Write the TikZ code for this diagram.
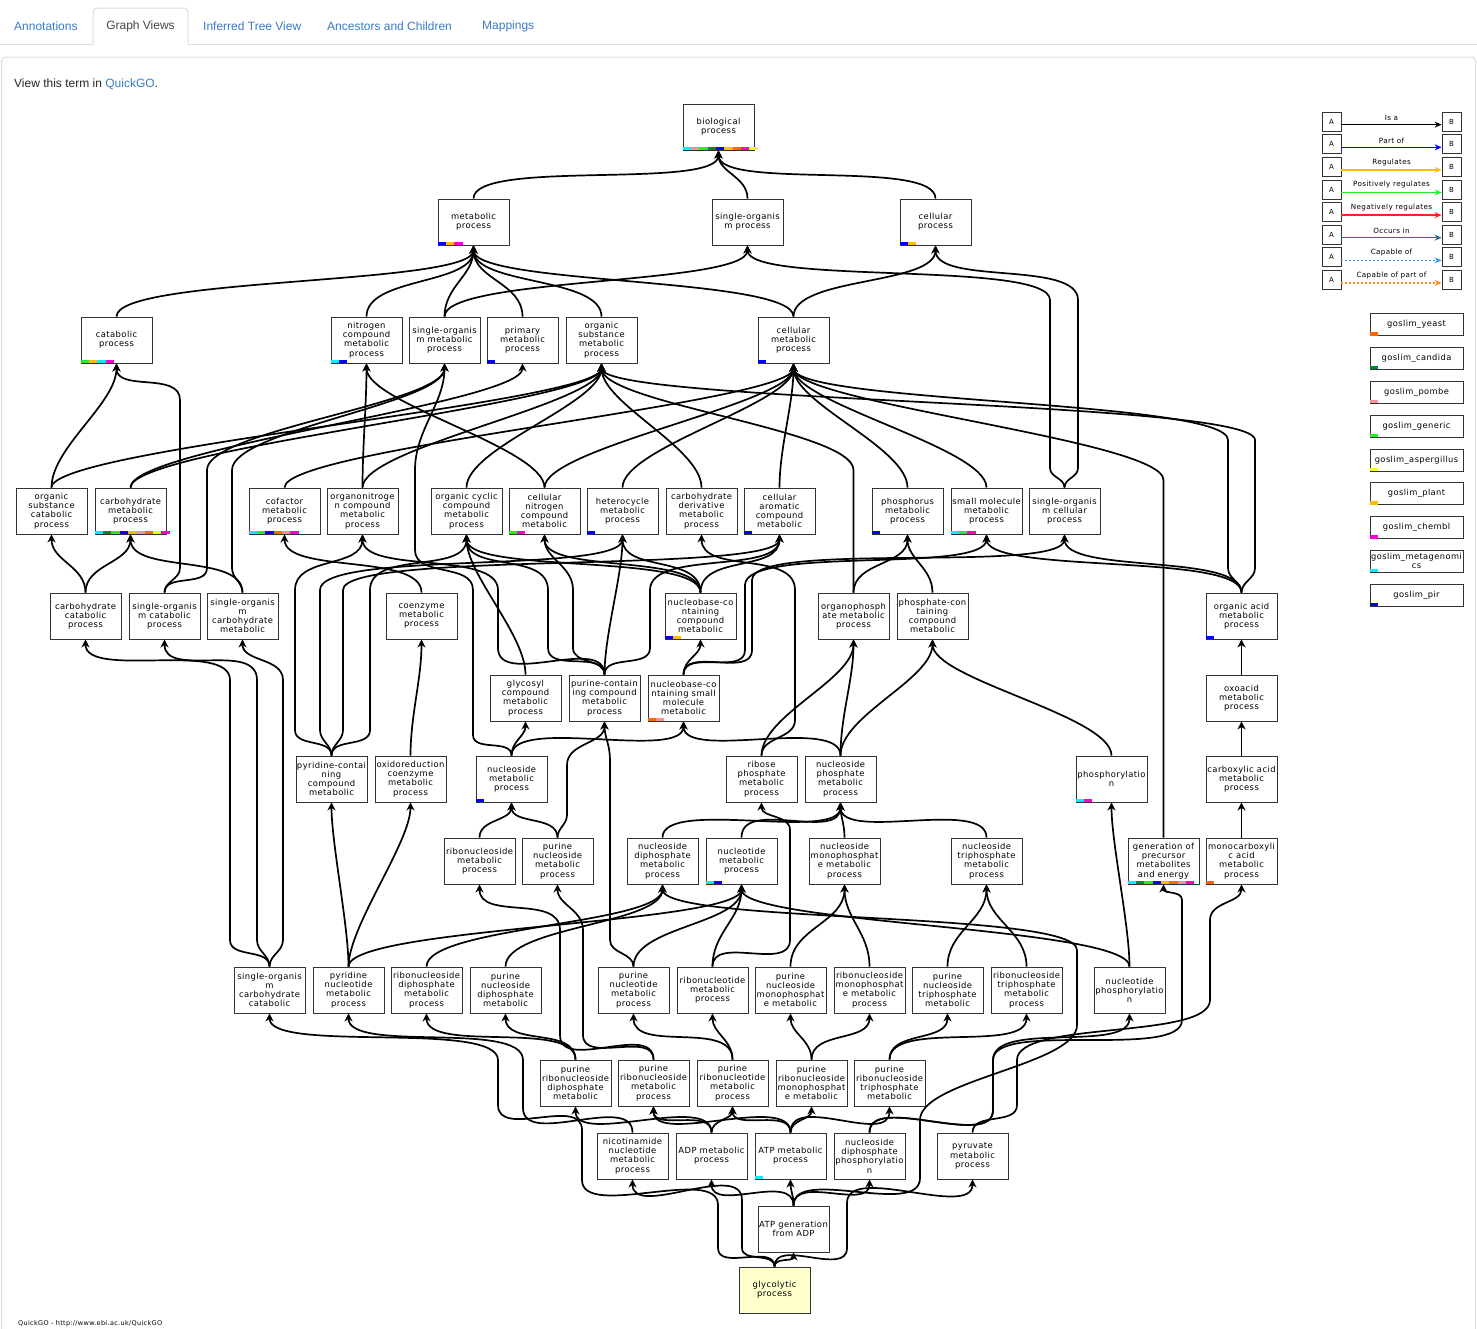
\documentclass[tikz,border=0pt]{standalone}
\usepackage{fontspec}
\setmainfont{DejaVu Sans}
\newfontfamily\gofont[LetterSpace=5]{DejaVu Sans}
\newfontfamily\uifont{Liberation Sans}
\usetikzlibrary{arrows.meta}
\definecolor{lnk}{HTML}{3A7BC8}
\definecolor{tabgray}{HTML}{444444}
\definecolor{tabline}{HTML}{DDDDDD}
\definecolor{cyeast}{HTML}{FF6600}
\definecolor{ccand}{HTML}{00882E}
\definecolor{cpombe}{HTML}{FF9090}
\definecolor{cgen}{HTML}{22EE22}
\definecolor{casp}{HTML}{FFFF00}
\definecolor{cplant}{HTML}{FFBB00}
\definecolor{cchem}{HTML}{FF00CC}
\definecolor{cmeta}{HTML}{00F0FF}
\definecolor{cpir}{HTML}{0000FF}
\definecolor{glyfill}{HTML}{FFFFCC}
\definecolor{cteal}{HTML}{008080}
\definecolor{ccap}{HTML}{3399FF}
\definecolor{ccapp}{HTML}{FF8C1A}
\definecolor{cred}{HTML}{FF2222}
\pgfdeclarelayer{back}
\pgfdeclarelayer{bg}
\pgfsetlayers{back,bg,main}
\tikzset{
  go/.style={draw=black!80, line width=0.9pt, fill=white, minimum width=71pt, minimum height=46pt, inner sep=0pt, align=center, font=\gofont\fontsize{8.4}{9.2}\selectfont},
  ed/.style={line width=1.7pt, black, out=90, in=-90, max distance=40pt, -{Stealth[length=8pt,width=8pt,inset=2.5pt]}},
  tab/.style={font=\uifont\fontsize{12}{14}\selectfont, text=lnk, inner sep=0pt},
  tabl/.style={draw=tabline, line width=1pt},
  lbox/.style={draw=black!80, line width=0.8pt, fill=white, minimum size=19pt, inner sep=0pt, font=\gofont\fontsize{7}{8}\selectfont},
  llab/.style={font=\gofont\fontsize{7.2}{8}\selectfont, inner sep=0pt, text=black},
  ltip/.style={line width=1.4pt, -{Stealth[length=7pt,width=6pt]}},
  slim/.style={draw=black!80, line width=0.8pt, fill=white, minimum width=93pt, minimum height=22pt, inner sep=0pt, align=center, font=\gofont\fontsize{8.3}{9}\selectfont}
}
\newcommand\E[2]{\draw[ed] (#1.north) to (#2.south);}
\newcommand\cbar[2]{\foreach \cc [count=\ii from 0] in {#2}{\fill[\cc] ([xshift=\ii*8.33pt,yshift=0.4pt]#1.south west) rectangle ++(8.33pt,3.5pt);}}
\begin{document}
\begin{tikzpicture}[x=1pt,y=1pt]
\useasboundingbox (0,0) rectangle (1477,-1328);
\begin{pgfonlayer}{back}
\fill[white] (0,0) rectangle (1477,-1328);
\end{pgfonlayer}
% ---------- header ----------
\draw[tabl] (0,-44.5) -- (93,-44.5);
\draw[tabl] (188,-44.5) -- (1477,-44.5);
\draw[tabl, rounded corners=4pt] (93,-44.5) -- (93,-8) -- (188,-8) -- (188,-44.5);
\node[tab, anchor=west] (t1) at (14,-26) {Annotations};
\node[tab, text=tabgray] (t2) at (140.5,-26) {Graph Views};
\node[tab, anchor=west] (t3) at (203,-26) {Inferred Tree View};
\node[tab, anchor=west] (t4) at (327,-26) {Ancestors and Children};
\node[tab, anchor=west] (t5) at (482,-26) {Mappings};
\draw[tabl, rounded corners=4pt] (1.5,-1345) -- (1.5,-57) -- (1475.5,-57) -- (1475.5,-1345);
\node[anchor=west, inner sep=0pt, font=\uifont\fontsize{12}{14}\selectfont, text=black!85] (view) at (14,-84.5) {View this term in \textcolor{lnk}{QuickGO}.};
\node[anchor=west, inner sep=0pt, font=\gofont\fontsize{6.5}{8}\selectfont] (foot) at (18,-1324) {QuickGO - http://www.ebi.ac.uk/QuickGO};
% ---------- nodes ----------
\node[go] (bio) at (718.5,-127) {biological\\process};
\node[go] (met) at (473.5,-222) {metabolic\\process};
\node[go] (sop) at (747.5,-222) {single-organis\\m process};
\node[go] (cel) at (935.5,-222) {cellular\\process};
\node[go] (cat) at (116.5,-340) {catabolic\\process};
\node[go] (nit) at (366.5,-340) {nitrogen\\compound\\metabolic\\process};
\node[go] (som) at (444.5,-340) {single-organis\\m metabolic\\process};
\node[go] (pri) at (522.5,-340) {primary\\metabolic\\process};
\node[go] (osm) at (601.5,-340) {organic\\substance\\metabolic\\process};
\node[go] (cm) at (793.5,-340) {cellular\\metabolic\\process};
\node[go] (osc) at (51.5,-511) {organic\\substance\\catabolic\\process};
\node[go] (carb) at (130.5,-511) {carbohydrate\\metabolic\\process};
\node[go] (cof) at (284.5,-511) {cofactor\\metabolic\\process};
\node[go] (onit) at (362.5,-511) {organonitroge\\n compound\\metabolic\\process};
\node[go] (occ) at (466.5,-511) {organic cyclic\\compound\\metabolic\\process};
\node[go] (cnit) at (544.5,-511) {cellular\\nitrogen\\compound\\metabolic};
\node[go] (het) at (622.5,-511) {heterocycle\\metabolic\\process};
\node[go] (cder) at (701.5,-511) {carbohydrate\\derivative\\metabolic\\process};
\node[go] (car) at (779.5,-511) {cellular\\aromatic\\compound\\metabolic};
\node[go] (pho) at (907.5,-511) {phosphorus\\metabolic\\process};
\node[go] (smm) at (986.5,-511) {small molecule\\metabolic\\process};
\node[go] (socp) at (1064.5,-511) {single-organis\\m cellular\\process};
\node[go] (ccat) at (85.5,-616) {carbohydrate\\catabolic\\process};
\node[go] (socat) at (164.5,-616) {single-organis\\m catabolic\\process};
\node[go] (socm) at (242.5,-616) {single-organis\\m\\carbohydrate\\metabolic};
\node[go] (coe) at (421.5,-616) {coenzyme\\metabolic\\process};
\node[go] (nbc) at (700.5,-616) {nucleobase-co\\ntaining\\compound\\metabolic};
\node[go] (orgp) at (853.5,-616) {organophosph\\ate metabolic\\process};
\node[go] (phc) at (932.5,-616) {phosphate-con\\taining\\compound\\metabolic};
\node[go] (oam) at (1241.5,-616) {organic acid\\metabolic\\process};
\node[go] (gly) at (525.5,-698) {glycosyl\\compound\\metabolic\\process};
\node[go] (pcc) at (604.5,-698) {purine-contain\\ing compound\\metabolic\\process};
\node[go] (nbs) at (683.5,-698) {nucleobase-co\\ntaining small\\molecule\\metabolic};
\node[go] (oxo) at (1241.5,-698) {oxoacid\\metabolic\\process};
\node[go] (pyc) at (331.5,-779) {pyridine-contai\\ning\\compound\\metabolic};
\node[go] (oxr) at (410.5,-779) {oxidoreduction\\coenzyme\\metabolic\\process};
\node[go] (nsm) at (511.5,-779) {nucleoside\\metabolic\\process};
\node[go] (rpm) at (761.5,-779) {ribose\\phosphate\\metabolic\\process};
\node[go] (npm) at (840.5,-779) {nucleoside\\phosphate\\metabolic\\process};
\node[go] (phos) at (1111.5,-779) {phosphorylatio\\n};
\node[go] (cam) at (1241.5,-779) {carboxylic acid\\metabolic\\process};
\node[go] (rns) at (479.5,-861) {ribonucleoside\\metabolic\\process};
\node[go] (pns) at (557.5,-861) {purine\\nucleoside\\metabolic\\process};
\node[go] (ndp) at (662.5,-861) {nucleoside\\diphosphate\\metabolic\\process};
\node[go] (ntm) at (741.5,-861) {nucleotide\\metabolic\\process};
\node[go] (nmp) at (844.5,-861) {nucleoside\\monophosphat\\e metabolic\\process};
\node[go] (ntp) at (986.5,-861) {nucleoside\\triphosphate\\metabolic\\process};
\node[go] (gpm) at (1163.5,-861) {generation of\\precursor\\metabolites\\and energy};
\node[go] (mca) at (1241.5,-861) {monocarboxyli\\c acid\\metabolic\\process};
\node[go] (scc) at (269.5,-990) {single-organis\\m\\carbohydrate\\catabolic};
\node[go] (pyn) at (348.5,-990) {pyridine\\nucleotide\\metabolic\\process};
\node[go] (rndp) at (426.5,-990) {ribonucleoside\\diphosphate\\metabolic\\process};
\node[go] (pndp) at (505.5,-990) {purine\\nucleoside\\diphosphate\\metabolic};
\node[go] (pnt) at (633.5,-990) {purine\\nucleotide\\metabolic\\process};
\node[go] (rnt) at (712.5,-990) {ribonucleotide\\metabolic\\process};
\node[go] (pnmp) at (790.5,-990) {purine\\nucleoside\\monophosphat\\e metabolic};
\node[go] (rnmp) at (869.5,-990) {ribonucleoside\\monophosphat\\e metabolic\\process};
\node[go] (pntp) at (947.5,-990) {purine\\nucleoside\\triphosphate\\metabolic};
\node[go] (rntp) at (1026.5,-990) {ribonucleoside\\triphosphate\\metabolic\\process};
\node[go] (ntph) at (1129.5,-990) {nucleotide\\phosphorylatio\\n};
\node[go] (prdp) at (575.5,-1083) {purine\\ribonucleoside\\diphosphate\\metabolic};
\node[go] (prn) at (653.5,-1083) {purine\\ribonucleoside\\metabolic\\process};
\node[go] (prnt) at (732.5,-1083) {purine\\ribonucleotide\\metabolic\\process};
\node[go] (prmp) at (811.5,-1083) {purine\\ribonucleoside\\monophosphat\\e metabolic};
\node[go] (prtp) at (889.5,-1083) {purine\\ribonucleoside\\triphosphate\\metabolic};
\node[go] (nic) at (632.5,-1156) {nicotinamide\\nucleotide\\metabolic\\process};
\node[go] (adp) at (711.5,-1156) {ADP metabolic\\process};
\node[go] (atp) at (790.5,-1156) {ATP metabolic\\process};
\node[go] (ndpp) at (869.5,-1156) {nucleoside\\diphosphate\\phosphorylatio\\n};
\node[go] (pyr) at (972.5,-1156) {pyruvate\\metabolic\\process};
\node[go] (atpg) at (793.5,-1229) {ATP generation\\from ADP};
\node[go, fill=glyfill] (glyc) at (774.5,-1290) {glycolytic\\process};
% ---------- colour bars ----------
\cbar{bio}{cmeta,cpombe,cgen,ccand,cpir,cplant,cyeast,cchem,casp}
\cbar{met}{cpir,cplant,cchem}
\cbar{cel}{cpir,cplant}
\cbar{cat}{cgen,cplant,cmeta,cchem}
\cbar{nit}{cmeta,cpir}
\cbar{pri}{cpir}
\cbar{cm}{cpir}
\cbar{carb}{cmeta,ccand,cgen,cpir,cplant,cpombe,cyeast,casp,cchem}
\cbar{cof}{cmeta,cgen,cpir,cyeast,cpombe,cchem}
\cbar{cnit}{cgen,cchem}
\cbar{het}{cpir}
\cbar{car}{cpir}
\cbar{pho}{cpir}
\cbar{smm}{cmeta,cgen,cchem}
\cbar{nbc}{cpir,cplant}
\cbar{oam}{cpir}
\cbar{nbs}{cyeast,cpombe}
\cbar{nsm}{cpir}
\cbar{phos}{cmeta,cchem}
\cbar{ntm}{cmeta,cpir}
\cbar{gpm}{cmeta,ccand,cgen,cpir,cplant,cyeast,cpombe,cchem}
\cbar{mca}{cyeast}
\cbar{atp}{cmeta}
% ---------- edges ----------
\begin{pgfonlayer}{bg}
\E{met}{bio}\E{sop}{bio}\E{cel}{bio}
\E{cat}{met}\E{nit}{met}\E{som}{met}\E{som}{sop}\E{pri}{met}\E{osm}{met}\E{cm}{met}\E{cm}{cel}
\E{osc}{cat}\E{osc}{osm}\E{carb}{pri}\E{carb}{osm}\E{cof}{cm}\E{onit}{nit}\E{onit}{osm}\E{occ}{osm}
\E{cnit}{nit}\E{cnit}{cm}\E{het}{cm}\E{cder}{osm}\E{car}{cm}\E{pho}{cm}\E{smm}{cm}
\E{ccat}{osc}\E{ccat}{carb}\E{socm}{carb}\E{coe}{cof}
\E{nbc}{occ}\E{nbc}{cnit}\E{nbc}{het}\E{nbc}{car}
\E{orgp}{pho}\E{phc}{pho}\E{oam}{smm}\E{oam}{socp}
\E{gly}{occ}\E{pcc}{het}\E{nbs}{nbc}\E{oxo}{oam}
\E{oxr}{coe}\E{nsm}{gly}\E{nsm}{nbs}\E{rpm}{orgp}\E{npm}{orgp}\E{npm}{phc}\E{npm}{nbs}\E{phos}{phc}\E{cam}{oxo}
\E{rns}{nsm}\E{pns}{nsm}\E{ndp}{npm}\E{ntm}{npm}\E{nmp}{npm}\E{ntp}{npm}\E{mca}{cam}
\E{pyn}{pyc}\E{pyn}{oxr}\E{pyn}{ntm}\E{rndp}{ndp}\E{pndp}{ndp}\E{pnt}{ntm}\E{rnt}{ntm}
\E{pnmp}{nmp}\E{rnmp}{nmp}\E{pntp}{ntp}\E{rntp}{ntp}\E{ntph}{ntm}\E{ntph}{phos}
\E{prdp}{rndp}\E{prdp}{pndp}\E{prnt}{pnt}\E{prnt}{rnt}\E{prmp}{pnmp}\E{prmp}{rnmp}\E{prtp}{pntp}\E{prtp}{rntp}
\E{adp}{prdp}\E{adp}{prn}\E{adp}{prnt}\E{atp}{prn}\E{atp}{prnt}\E{atp}{prmp}\E{atp}{prtp}
\E{atpg}{adp}\E{atpg}{atp}\E{atpg}{ndpp}\E{glyc}{atpg}
% routed edges
\draw[ed] (socp.north) to (1050,-468) -- (1050,-300) to (sop.south);
\draw[ed] (socp.north) to (1078,-468) -- (1078,-300) to (cel.south);
\draw[ed] (socat.north) to (180,-568) -- (180,-400) to (cat.south);
\draw[ed] (socat.north) to (207,-568) -- (207,-470) to (som.south);
\draw[ed] (socm.north) to (232,-568) -- (232,-470) to (som.south);
\draw[ed] (orgp.north) -- (853.5,-470) to (osm.south);
\draw[ed] (oam.north) to (1228,-568) -- (1228,-440) to (cm.south);
\draw[ed] (oam.north) to (1255,-568) -- (1255,-440) to (osm.south);
\draw[ed] (pcc.north) to (498,-648) -- (498,-590) to (onit.south);
\draw[ed] (pcc.north) to (548,-648) -- (548,-590) to (occ.south);
\draw[ed] (pcc.north) to (573,-648) -- (573,-590) to (cnit.south);
\draw[ed] (pcc.north) to (650,-648) -- (650,-590) to (car.south);
\draw[ed] (nbs.north) to (745,-650) -- (745,-585) to (smm.south);
\draw[ed] (nbs.north) to (752,-650) -- (752,-580) to (socp.south);
\draw[ed] (pyc.north) to (295,-730) -- (295,-590) to (onit.south);
\draw[ed] (pyc.north) to (320,-730) -- (320,-590) to (het.south);
\draw[ed] (pyc.north) to (343,-730) -- (343,-590) to (car.south);
\draw[ed] (pyc.north) to (370,-730) -- (370,-590) to (occ.south);
\draw[ed] (nsm.north) to (473,-735) -- (473,-590) to (415,-550) -- (415,-470) to (som.south);
\draw[ed] (rpm.north) to (795,-720) -- (795,-590) to (cder.south);
\draw[ed] (pns.north) to (567,-815) -- (567,-765) to (pcc.south);
\draw[ed] (gpm.north) -- (1163.5,-480) to (cm.south);
\draw[ed] (scc.north) to (230,-940) -- (230,-680) to (ccat.south);
\draw[ed] (scc.north) to (257,-940) -- (257,-680) to (socat.south);
\draw[ed] (scc.north) to (283,-940) -- (283,-680) to (socm.south);
\draw[ed] (pnt.north) to (610,-940) -- (610,-760) to (pcc.south);
\draw[ed] (rnt.north) to (790,-940) -- (790,-830) to (rpm.south);
\draw[ed] (prn.north) to (583,-1035) -- (583,-930) to (pns.south);
\draw[ed] (prn.north) to (560,-1035) -- (560,-930) to (rns.south);
\draw[ed] (nic.north) to (523,-1108) -- (523,-1060) to (pyn.south);
\draw[ed] (glyc.north) to (718,-1248) -- (718,-1205) to (582,-1180) -- (582,-1130) to (498,-1105) -- (498,-1060) to (scc.south);
\draw[ed] (glyc.north) to (742,-1248) -- (742,-1200) to (nic.south);
\draw[ed] (glyc.north) to (847,-1248) -- (847,-1203) to (pyr.south);
\draw[ed] (ndpp.north) to (993,-1110) -- (993,-1060) to (ntph.south);
\draw[ed] (ndpp.north) to (993,-1110) -- (993,-1060) to (1182,-1020) -- (1182,-900) to (gpm.south);
\draw[ed] (atpg.north) to (920,-1178) -- (920,-1120) to (1077,-1025) -- (1077,-950) to (ndp.south);
\draw[ed] (pyr.north) to (1017,-1105) -- (1017,-1060) to (1210,-1000) -- (1210,-920) to (mca.south);
\end{pgfonlayer}
% ---------- legend ----------
\node[lbox] (la1) at (1331.5,-121.7) {A}; \node[lbox] (lb1) at (1451.5,-121.7) {B};
\draw[ltip, black] ([yshift=-3pt]la1.east) -- ([yshift=-3pt]lb1.west) node[llab, midway, above=3.5pt] {Is a};
\node[lbox] (la2) at (1331.5,-144.3) {A}; \node[lbox] (lb2) at (1451.5,-144.3) {B};
\draw[ltip, cpir] ([yshift=-3pt]la2.east) -- ([yshift=-3pt]lb2.west) node[llab, midway, above=3.5pt] {Part of};
\node[lbox] (la3) at (1331.5,-166.9) {A}; \node[lbox] (lb3) at (1451.5,-166.9) {B};
\draw[ltip, cplant] ([yshift=-3pt]la3.east) -- ([yshift=-3pt]lb3.west) node[llab, midway, above=3.5pt] {Regulates};
\node[lbox] (la4) at (1331.5,-189.5) {A}; \node[lbox] (lb4) at (1451.5,-189.5) {B};
\draw[ltip, cgen] ([yshift=-3pt]la4.east) -- ([yshift=-3pt]lb4.west) node[llab, midway, above=3.5pt] {Positively regulates};
\node[lbox] (la5) at (1331.5,-212.1) {A}; \node[lbox] (lb5) at (1451.5,-212.1) {B};
\draw[ltip, cred] ([yshift=-3pt]la5.east) -- ([yshift=-3pt]lb5.west) node[llab, midway, above=3.5pt] {Negatively regulates};
\node[lbox] (la6) at (1331.5,-234.7) {A}; \node[lbox] (lb6) at (1451.5,-234.7) {B};
\draw[ltip, cteal] ([yshift=-3pt]la6.east) -- ([yshift=-3pt]lb6.west) node[llab, midway, above=3.5pt] {Occurs in};
\node[lbox] (la7) at (1331.5,-257.3) {A}; \node[lbox] (lb7) at (1451.5,-257.3) {B};
\draw[ltip, ccap, dash pattern=on 2pt off 2pt] ([yshift=-3pt]la7.east) -- ([yshift=-3pt]lb7.west) node[llab, midway, above=3.5pt] {Capable of};
\node[lbox] (la8) at (1331.5,-279.9) {A}; \node[lbox] (lb8) at (1451.5,-279.9) {B};
\draw[ltip, ccapp, dash pattern=on 2pt off 2pt] ([yshift=-3pt]la8.east) -- ([yshift=-3pt]lb8.west) node[llab, midway, above=3.5pt] {Capable of part of};
% slim boxes
\node[slim] (s1) at (1416.5,-324.7) {goslim\_yeast}; \cbar{s1}{cyeast}
\node[slim] (s2) at (1416.5,-358) {goslim\_candida}; \cbar{s2}{ccand}
\node[slim] (s3) at (1416.5,-392) {goslim\_pombe}; \cbar{s3}{cpombe}
\node[slim] (s4) at (1416.5,-426) {goslim\_generic}; \cbar{s4}{cgen}
\node[slim] (s5) at (1416.5,-460) {goslim\_aspergillus}; \cbar{s5}{casp}
\node[slim] (s6) at (1416.5,-493.7) {goslim\_plant}; \cbar{s6}{cplant}
\node[slim] (s7) at (1416.5,-527.7) {goslim\_chembl}; \cbar{s7}{cchem}
\node[slim] (s8) at (1416.5,-561) {goslim\_metagenomi\\cs}; \cbar{s8}{cmeta}
\node[slim] (s9) at (1416.5,-595) {goslim\_pir}; \cbar{s9}{cpir}
\end{tikzpicture}
\end{document}
